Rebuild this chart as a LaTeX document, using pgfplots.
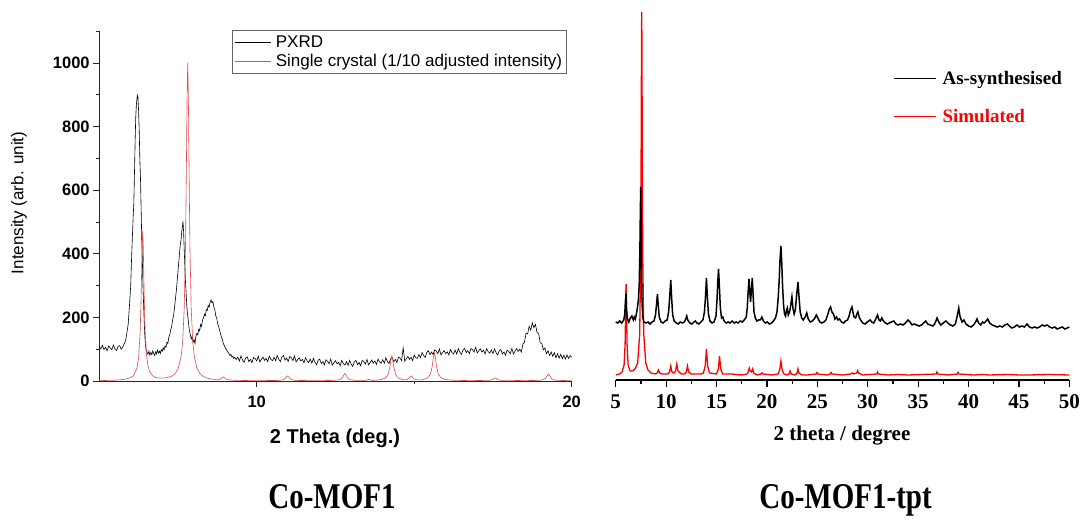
\documentclass[border=0pt]{standalone}
\usepackage{graphicx}
\usepackage{pgfplots}
\pgfplotsset{compat=1.18}
\usepackage{pgfplotstable}
\usepackage{fontspec}
\setmainfont{Liberation Serif}
\newfontfamily\arialf{Liberation Sans}
\definecolor{xtalred}{RGB}{225,75,75}
\definecolor{simred}{RGB}{255,0,0}

% left panel: PXRD of Co-MOF1
\pgfplotstableread{
x y
5.00 108
5.05 101
5.10 112
5.15 99
5.20 106
5.25 95
5.30 110
5.35 104
5.40 98
5.45 113
5.50 102
5.55 96
5.60 109
5.65 111
5.70 100
5.75 107
5.80 118
5.84 128
5.88 152
5.92 178
5.96 236
6.00 300
6.03 392
6.06 470
6.08 520
6.10 560
6.12 655
6.14 752
6.16 830
6.18 868
6.21 899
6.23 892
6.25 850
6.27 788
6.29 700
6.31 640
6.33 548
6.35 450
6.37 380
6.39 300
6.41 240
6.43 185
6.45 140
6.47 112
6.49 97
6.52 90
6.55 84
6.58 94
6.61 81
6.64 90
6.67 83
6.70 95
6.73 86
6.76 80
6.79 92
6.82 85
6.85 97
6.88 88
6.91 94
6.94 86
6.97 99
7.00 93
7.03 104
7.06 98
7.09 110
7.12 106
7.15 122
7.18 118
7.21 138
7.24 145
7.27 162
7.30 170
7.33 192
7.36 205
7.39 230
7.42 258
7.45 285
7.48 320
7.51 355
7.54 390
7.57 425
7.60 445
7.62 470
7.64 485
7.66 502
7.68 468
7.70 410
7.72 360
7.74 310
7.76 275
7.78 238
7.80 215
7.83 188
7.86 160
7.89 148
7.92 132
7.95 140
7.98 122
8.01 130
8.04 118
8.07 140
8.10 150
8.13 145
8.16 163
8.19 158
8.22 178
8.25 172
8.28 192
8.31 198
8.34 210
8.37 205
8.40 225
8.43 222
8.46 238
8.49 232
8.52 248
8.55 255
8.58 246
8.61 250
8.64 232
8.67 225
8.70 205
8.73 198
8.76 180
8.79 172
8.82 160
8.85 150
8.88 138
8.91 130
8.94 118
8.97 112
9.00 105
9.03 100
9.06 95
9.09 90
9.12 86
9.15 80
9.18 84
9.21 76
9.24 78
9.27 71
9.30 74
9.35 68
9.40 75
9.45 63
9.50 79
9.55 66
9.60 59
9.65 72
9.70 76
9.75 61
9.80 68
9.85 58
9.90 74
9.95 71
10.00 63
10.05 78
10.10 60
10.15 68
10.20 75
10.25 65
10.30 71
10.35 61
10.40 78
10.45 68
10.50 64
10.55 75
10.60 64
10.65 80
10.70 68
10.75 61
10.80 76
10.85 80
10.90 66
10.95 72
11.00 62
11.05 77
11.10 73
11.15 64
11.20 79
11.25 60
11.30 67
11.35 73
11.40 63
11.45 68
11.50 57
11.55 73
11.60 63
11.65 58
11.70 69
11.75 56
11.80 71
11.85 59
11.90 51
11.95 65
12.00 69
12.05 55
12.10 61
12.15 51
12.20 67
12.25 62
12.30 54
12.35 69
12.40 50
12.45 57
12.50 64
12.55 54
12.60 59
12.65 48
12.70 65
12.75 55
12.80 50
12.85 61
12.90 49
12.95 65
13.00 53
13.05 46
13.10 60
13.15 65
13.20 51
13.25 58
13.30 48
13.35 65
13.40 61
13.45 53
13.50 68
13.55 51
13.60 58
13.65 66
13.70 56
13.75 63
13.80 52
13.85 69
13.90 60
13.95 56
14.00 67
14.05 56
14.10 73
14.15 61
14.20 55
14.25 69
14.30 74
14.35 60
14.40 68
14.45 58
14.50 75
14.55 72
14.60 64
14.65 104
14.70 62
14.75 70
14.80 77
14.85 68
14.90 75
14.95 64
15.00 82
15.05 73
15.10 71
15.15 83
15.20 73
15.25 90
15.30 80
15.35 74
15.40 90
15.45 95
15.50 83
15.55 91
15.60 83
15.65 98
15.70 94
15.75 86
15.80 101
15.85 82
15.90 89
15.95 96
16.00 86
16.05 92
16.10 82
16.15 99
16.20 89
16.25 85
16.30 97
16.35 85
16.40 102
16.45 90
16.50 84
16.55 98
16.60 102
16.65 89
16.70 96
16.75 86
16.80 102
16.85 99
16.90 91
16.95 106
17.00 88
17.05 95
17.10 101
17.15 91
17.20 97
17.25 85
17.30 102
17.35 92
17.40 87
17.45 98
17.50 86
17.55 101
17.60 89
17.65 82
17.70 95
17.75 99
17.80 85
17.85 91
17.90 81
17.95 97
18.00 93
18.05 86
18.10 102
18.15 85
18.20 94
18.25 102
18.30 93
18.35 100
18.40 91
18.45 116
18.50 122
18.55 150
18.60 148
18.65 172
18.70 160
18.75 183
18.80 168
18.85 178
18.90 152
18.95 150
19.00 120
19.05 118
19.10 98
19.15 104
19.20 86
19.25 95
19.30 80
19.35 91
19.40 77
19.45 89
19.50 73
19.55 86
19.60 72
19.65 84
19.70 70
19.75 81
19.80 69
19.85 82
19.90 71
19.95 80
20.00 74
}\pxrd

\pgfplotstableread{
x y
5.00 1
5.50 2.5
5.80 5
6.00 11
6.10 18
6.20 41
6.25 72
6.30 152
6.33 258
6.36 415
6.38 471
6.40 417
6.43 259
6.46 153
6.50 84
6.55 47
6.60 30
6.70 16
6.80 11
6.90 9.5
7.00 9
7.10 10
7.20 12
7.30 15
7.40 22
7.50 37
7.60 76
7.65 124
7.70 230
7.74 424
7.77 692
7.79 900
7.81 1000
7.83 900
7.85 692
7.88 424
7.92 230
7.97 124
8.02 76
8.10 41
8.20 23
8.30 15
8.40 10
8.50 7.5
8.60 5.7
8.70 4.5
8.80 3.7
8.85 6.5
8.90 10
8.94 13
8.98 10
9.03 6
9.10 3.7
9.30 2.3
9.60 1.5
10.00 1.2
10.63 1.6
10.78 2.7
10.86 4.8
10.91 8.5
10.945 13
10.98 16
11.015 13
11.05 8.5
11.10 4.8
11.18 2.7
11.33 1.6
12.00 1
12.45 1.9
12.60 3.5
12.68 6.8
12.73 12.5
12.765 19.4
12.80 24
12.835 19.4
12.87 12.5
12.92 6.8
13.00 3.5
13.15 1.9
13.45 2
13.50 3
13.535 4.2
13.57 5
13.605 4.2
13.64 3
13.69 2
13.94 4.1
14.09 9.6
14.17 20.5
14.22 40
14.255 63
14.29 79
14.325 63
14.36 40
14.41 20.5
14.49 9.6
14.64 4.1
14.70 3.5
14.78 5.2
14.83 8.8
14.865 13.3
14.90 16.3
14.935 13.4
14.97 9
15.02 5.4
15.10 3.6
15.25 3.8
15.29 4.5
15.44 10.7
15.52 23
15.57 45
15.605 71
15.64 89
15.675 71
15.71 45
15.76 23
15.84 10.7
15.99 4.5
16.30 2
16.80 1.2
17.37 2
17.45 3.2
17.50 5.5
17.535 8.2
17.57 10
17.605 8.2
17.64 5.5
17.69 3.2
17.77 2
17.90 2
17.96 3
18.02 2
18.50 1.2
18.91 1.8
19.06 3.3
19.14 6.2
19.19 11.5
19.225 17.8
19.26 22
19.295 17.8
19.33 11.5
19.38 6.2
19.46 3.3
19.61 1.8
20.00 1
}\xtal

% right panel: Co-MOF1-tpt (heights in pt above the axis line)
\pgfplotstableread{
x y
5.00 58
5.20 57
5.40 59
5.60 57
5.80 60
5.90 66
5.97 80
6.02 86
6.07 72
6.15 61
6.30 58
6.45 62
6.60 64
6.75 60
6.85 63
6.95 61
7.05 66
7.15 72
7.25 80
7.33 95
7.40 130
7.44 165
7.48 193
7.52 160
7.56 110
7.62 75
7.70 62
7.80 58
8.00 57
8.20 58
8.40 56
8.60 58
8.80 59
8.95 65
9.05 76
9.14 86
9.22 75
9.32 63
9.50 58
9.70 57
9.90 59
10.10 60
10.25 68
10.35 82
10.46 100
10.55 82
10.65 65
10.80 59
11.00 57
11.20 56
11.40 58
11.60 57
11.80 58
11.95 61
12.05 64
12.15 60
12.35 57
12.55 56
12.75 58
12.90 59
13.05 57
13.25 56
13.45 58
13.65 60
13.80 68
13.90 82
14.00 102
14.10 82
14.20 66
14.35 59
14.55 57
14.75 58
14.95 64
15.05 80
15.12 97
15.20 111
15.28 95
15.38 72
15.50 62
15.62 63
15.75 59
15.95 57
16.15 58
16.35 57
16.55 59
16.75 57
16.95 58
17.15 57
17.35 59
17.55 58
17.75 60
17.95 63
18.05 72
18.12 85
18.22 101
18.30 88
18.38 78
18.46 90
18.55 102
18.63 85
18.72 68
18.85 62
19.00 59
19.20 60
19.35 60
19.50 63
19.65 59
19.85 57
20.05 58
20.25 56
20.45 57
20.65 59
20.85 62
21.00 68
21.12 82
21.22 100
21.30 120
21.39 134
21.47 118
21.55 95
21.65 75
21.75 66
21.85 64
21.95 70
22.03 72
22.12 65
22.25 68
22.35 74
22.48 83
22.58 72
22.70 66
22.82 70
22.95 85
23.08 98
23.18 84
23.30 68
23.45 62
23.60 60
23.80 63
23.95 67
24.10 61
24.30 58
24.50 59
24.70 61
24.90 65
25.05 62
25.25 58
25.45 57
25.65 58
25.85 60
26.05 66
26.20 71
26.32 73
26.45 68
26.60 66
26.75 61
26.90 63
27.05 60
27.20 61
27.40 58
27.60 57
27.80 59
28.00 60
28.15 64
28.30 70
28.44 73
28.55 67
28.65 63
28.80 62
28.93 66
29.03 68
29.15 63
29.30 60
29.50 57
29.75 56
29.95 58
30.10 59
30.25 60
30.40 58
30.60 57
30.80 61
30.98 65
31.12 60
31.25 59
31.40 62
31.55 59
31.75 57
31.95 56
32.15 57
32.35 58
32.60 59
32.80 56
33.00 55
33.25 56
33.50 55
33.75 57
34.00 60
34.20 58
34.40 55
34.60 56
34.85 55
35.10 54
35.35 55
35.55 57
35.75 59
35.95 56
36.20 55
36.45 54
36.65 56
36.88 62
37.05 58
37.25 55
37.50 57
37.75 59
37.95 57
38.20 55
38.45 54
38.70 56
38.88 64
39.03 72
39.15 64
39.35 58
39.55 60
39.75 56
40.00 54
40.25 53
40.50 55
40.70 58
40.85 61
41.00 57
41.20 55
41.40 58
41.55 57
41.75 59
41.90 61
42.10 57
42.35 55
42.60 54
42.85 53
43.10 54
43.35 53
43.60 55
43.85 56
44.05 54
44.30 52
44.55 53
44.80 55
45.05 53
45.30 54
45.55 53
45.80 56
46.05 53
46.30 52
46.55 53
46.80 52
47.05 53
47.30 55
47.55 54
47.80 55
48.05 53
48.30 52
48.55 53
48.80 51
49.05 52
49.30 53
49.55 51
49.80 52
50.00 53
}\asyn

\pgfplotstableread{
x y
5.00 5
5.40 6
5.63 8
5.83 15
5.93 35
5.98 65
6.01 89
6.03 96
6.05 89
6.08 65
6.13 35
6.23 15
6.43 9
6.70 9
6.90 11
7.18 17
7.38 46
7.48 126
7.53 246
7.56 340
7.58 368
7.60 340
7.63 246
7.68 126
7.78 46
7.98 17
8.20 10
8.50 7
8.90 6
9.12 7
9.24 10
9.36 7
9.60 6
10.16 6
10.34 8
10.46 14
10.58 8
10.80 7
10.94 9
11.06 16
11.18 9
11.50 6
11.82 6
12.00 8
12.12 14
12.24 8
12.50 6
13.00 6
13.50 6
13.70 7
13.88 14
14.00 31
14.12 14
14.30 7
15.00 6
15.18 11
15.30 24
15.42 11
15.60 6
16.50 6
17.50 5
18.00 6
18.15 8
18.25 12
18.35 9
18.48 8
18.58 11
18.70 7
19.00 5
19.40 6
19.50 7
19.60 6
20.50 5
21.10 6
21.27 10
21.39 19
21.51 10
21.70 6
22.00 5
22.20 6
22.30 9
22.40 6
22.80 5
23.00 7
23.08 11
23.16 7
23.50 5
24.00 5
24.90 6
24.97 7.5
25.05 6
26.00 5
26.30 6
26.36 7.5
26.45 6
27.50 5
28.30 6
28.45 7
28.60 6
28.90 7
29.00 9.5
29.10 7
29.50 5
30.90 6
30.98 8
31.06 6
32.00 5
33.00 5.5
34.00 5
35.50 5.5
36.80 6
36.87 8
36.95 6
38.00 5
38.90 6
38.96 7.5
39.05 6
40.50 5
41.50 5.5
42.00 5
44.00 5.5
45.00 5
46.00 5
48.00 5.5
50.00 5
}\simu

\begin{document}
\begin{tikzpicture}
\path[use as bounding box] (0,0) rectangle (1083pt,526pt);

\begin{axis}[
  at={(99.2pt,145pt)}, anchor=south west,
  scale only axis, width=472.5pt, height=349.8pt,
  xmin=5, xmax=20, ymin=0, ymax=1100,
  axis lines=left,
  axis line style={-, black!85, line width=0.8pt},
  xtick={10,20}, minor xtick={15},
  ytick={0,200,...,1000}, minor ytick={100,300,...,1100},
  tick align=outside,
  major tick length=6pt, minor tick length=3.5pt,
  tick style={black!85, line width=0.8pt},
  ticklabel style={font=\arialf\bfseries\fontsize{16.5}{16.5}\selectfont},
  xticklabel style={yshift=-5pt},
  /pgf/number format/assume math mode=true,
  /pgf/number format/set thousands separator={},
  legend style={at={(axis description cs:0.281,1.003)}, anchor=north west,
    draw=black!60, line width=0.6pt, inner xsep=2pt, inner ysep=3pt,
    font=\arialf\fontsize{17}{17}\selectfont, row sep=2pt,
    /tikz/every odd column/.append style={column sep=3pt}},
  legend cell align=left,
  legend image code/.code={\draw[#1] (0pt,0pt) -- (36pt,0pt);},
]
\addplot[black, line width=0.6pt] table {\pxrd};
\addlegendentry{PXRD}
\addplot[xtalred, line width=0.6pt] table {\xtal};
\addlegendentry{Single crystal (1/10 adjusted intensity)}
\end{axis}

\begin{axis}[
  at={(615.7pt,146pt)}, anchor=south west,
  scale only axis, width=453.6pt, height=368pt,
  xmin=5, xmax=50, ymin=0, ymax=368,
  axis x line=bottom, axis y line=none, ytick=\empty,
  axis line style={-, black, line width=1.2pt},
  xtick={5,10,...,50}, minor xtick={7.5,12.5,...,47.5},
  tick align=outside,
  major tick length=7pt, minor tick length=4pt,
  tick style={black, line width=1.2pt},
  xticklabel style={font=\bfseries\fontsize{21}{21}\selectfont, yshift=-4pt},
  /pgf/number format/assume math mode=true,
  clip=false,
  legend style={at={(axis description cs:0.611,0.845)}, anchor=north west,
    draw=none, fill=none, inner sep=0pt,
    font=\bfseries\fontsize{19}{19}\selectfont, row sep=19pt,
    /tikz/every odd column/.append style={column sep=4pt}},
  legend cell align=left,
  legend image code/.code={\draw[#1] (0pt,0pt) -- (42pt,0pt);},
  reverse legend,
]
\addplot[simred, line width=1.3pt] table {\simu};
\addlegendentry{\textcolor{simred}{Simulated}}
\addplot[black, line width=1.5pt] table {\asyn};
\addlegendentry{As-synthesised}
\end{axis}

\node[rotate=90, font=\arialf\fontsize{17}{17}\selectfont] at (19pt,323pt) {Intensity (arb. unit)};
\node[anchor=base, font=\arialf\bfseries\fontsize{20}{20}\selectfont] at (335pt,82pt) {2 Theta (deg.)};
\node[anchor=base, font=\bfseries\fontsize{21}{21}\selectfont] at (842pt,85pt) {2 theta / degree};
\node[anchor=base, font=\bfseries\fontsize{29}{29}\selectfont] at (332pt,17pt) {\scalebox{1}[1.25]{Co-MOF1}};
\node[anchor=base, font=\bfseries\fontsize{29}{29}\selectfont] at (845.5pt,17pt) {\scalebox{1}[1.25]{Co-MOF1-tpt}};
\end{tikzpicture}
\end{document}
